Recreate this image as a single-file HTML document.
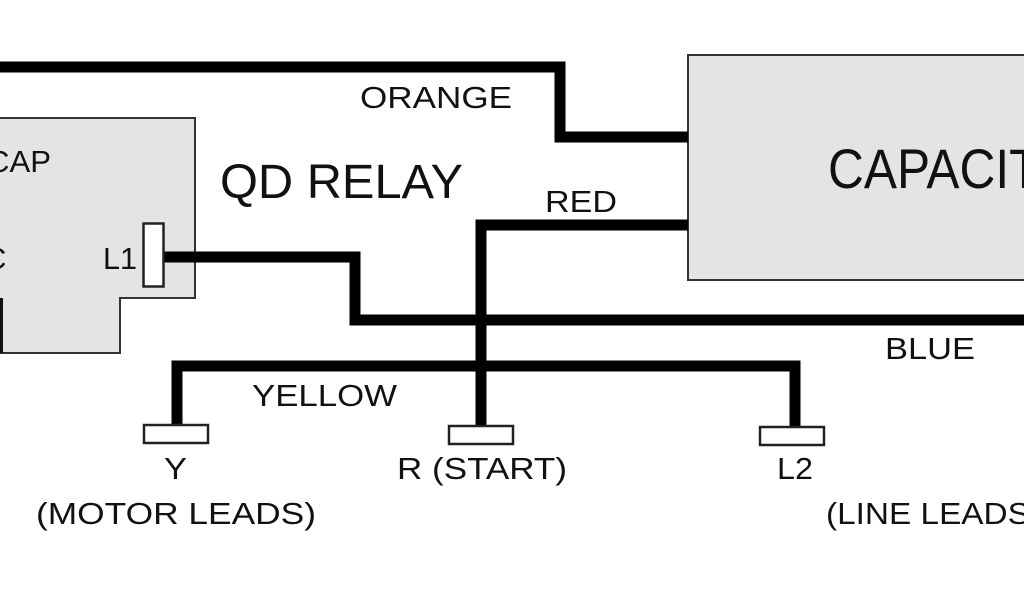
<!DOCTYPE html>
<html><head><meta charset="utf-8"><style>html,body{margin:0;padding:0;background:#fff;overflow:hidden}</style></head>
<body>
<svg width="1024" height="600" viewBox="0 0 1024 600" xmlns="http://www.w3.org/2000/svg" font-family="Liberation Sans, sans-serif" fill="#111">
<rect width="1024" height="600" fill="#fff"/>
<path d="M-5 118 H195 V298 H120 V353 H-5 Z" fill="#e3e4e6" stroke="#333" stroke-width="2"/>
<line x1="1" y1="298" x2="1" y2="353" stroke="#111" stroke-width="4"/>
<rect x="688" y="55" width="345" height="225" fill="#e3e4e6" stroke="#333" stroke-width="2"/>
<g fill="none" stroke="#000" stroke-width="11" stroke-linejoin="miter">
<polyline points="-5,67 560,67 560,137 688,137"/>
<polyline points="164,257 355,257 355,320 1030,320"/>
<polyline points="688,225 481,225 481,426"/>
<polyline points="177,426 177,366 795,366 795,428"/>
</g>
<rect x="143.5" y="223.5" width="20" height="63" fill="#fff" stroke="#222" stroke-width="2.5"/>
<rect x="144" y="425" width="64" height="18" fill="#fff" stroke="#222" stroke-width="2.5"/>
<rect x="449" y="426" width="64" height="18" fill="#fff" stroke="#222" stroke-width="2.5"/>
<rect x="760" y="427" width="64" height="18" fill="#fff" stroke="#222" stroke-width="2.5"/>
<g font-size="31">
<text x="360" y="108" textLength="152" lengthAdjust="spacingAndGlyphs">ORANGE</text>
<text x="545" y="212" textLength="72" lengthAdjust="spacingAndGlyphs">RED</text>
<text x="885" y="359" textLength="90" lengthAdjust="spacingAndGlyphs">BLUE</text>
<text x="252" y="406" textLength="145" lengthAdjust="spacingAndGlyphs">YELLOW</text>
<text x="164" y="479" textLength="23" lengthAdjust="spacingAndGlyphs">Y</text>
<text x="397" y="479" textLength="170" lengthAdjust="spacingAndGlyphs">R (START)</text>
<text x="777" y="479" textLength="36" lengthAdjust="spacingAndGlyphs">L2</text>
<text x="36" y="524" textLength="280" lengthAdjust="spacingAndGlyphs">(MOTOR LEADS)</text>
<text x="826" y="524" textLength="215" lengthAdjust="spacingAndGlyphs">(LINE LEADS)</text>
<text x="-13" y="172" textLength="64" lengthAdjust="spacingAndGlyphs">CAP</text>
<text x="103" y="269" textLength="34" lengthAdjust="spacingAndGlyphs">L1</text>
<text x="-16" y="269">C</text>
</g>
<text x="220" y="198" font-size="48" textLength="243" lengthAdjust="spacingAndGlyphs">QD RELAY</text>
<text x="828" y="188" font-size="56" textLength="285" lengthAdjust="spacingAndGlyphs">CAPACITOR</text>
</svg>
</body></html>
